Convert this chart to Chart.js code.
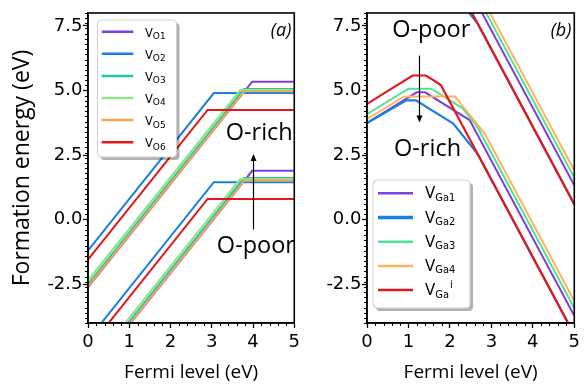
<!DOCTYPE html>
<html><head><meta charset="utf-8">
<script src="https://cdn.jsdelivr.net/npm/chart.js@4.4.0/dist/chart.umd.min.js"></script>
<style>
html,body{margin:0;padding:0;background:#fff;}
#wrap{position:relative;width:584px;height:385px;overflow:hidden;}
#ca{position:absolute;left:0;top:0;}
#cb{position:absolute;left:304px;top:0;}
</style></head><body>
<div id="wrap"><canvas id="ca" width="304" height="385"></canvas><canvas id="cb" width="280" height="385"></canvas></div>
<script>
// ---------- axis ticks ----------
const fermiTicks = [0, 1, 2, 3, 4, 5];
const energyTicks = [-2.5, 0, 2.5, 5, 7.5];
const minorStep = 0.2;

// ---------- panel (a): oxygen vacancies ----------
const namesA = ['O1', 'O2', 'O3', 'O4', 'O5', 'O6'];
const colorsA = ['#7b3fe2', '#1a7fe0', '#20c9a8', '#92e28c', '#ffa24c', '#e8141b'];
// O-rich  [Fermi level, formation energy]
const vO1Rich = [[0, -2.62], [3.98, 5.34], [5, 5.34]];
const vO2Rich = [[0, -1.20], [3.05, 4.90], [5, 4.90]];
const vO3Rich = [[0, -2.50], [3.78, 5.06], [5, 5.06]];
const vO4Rich = [[0, -2.36], [3.69, 5.02], [5, 5.02]];
const vO5Rich = [[0, -2.60], [3.79, 4.97], [5, 4.97]];
const vO6Rich = [[0, -1.55], [2.90, 4.25], [5, 4.25]];
// O-poor
const vO1Poor = [[0, -6.07], [3.98, 1.89], [5, 1.89]];
const vO2Poor = [[0, -4.65], [3.05, 1.45], [5, 1.45]];
const vO3Poor = [[0, -5.95], [3.78, 1.61], [5, 1.61]];
const vO4Poor = [[0, -5.81], [3.69, 1.57], [5, 1.57]];
const vO5Poor = [[0, -6.05], [3.79, 1.52], [5, 1.52]];
const vO6Poor = [[0, -5.00], [2.90, 0.80], [5, 0.80]];

// ---------- panel (b): gallium vacancies ----------
const namesB = ['Ga1', 'Ga2', 'Ga3', 'Ga4', 'Ga'];
const supB = ['', '', '', '', 'i'];
const colorsB = ['#7b3fe2', '#1a7fe0', '#52e294', '#ffb35e', '#e8141b'];
// O-rich
const vGa1Rich = [[0, 3.74], [1.20, 4.93], [1.40, 4.93], [2.475, 3.855], [5, -3.72]];
const vGa2Rich = [[0, 3.74], [0.95, 4.62], [1.18, 4.62], [2.08, 3.72], [2.67, 2.54], [5, -4.45]];
const vGa3Rich = [[0, 4.08], [1.00, 5.07], [1.55, 5.07], [2.30, 4.32], [2.66, 3.60], [5, -3.42]];
const vGa4Rich = [[0, 3.89], [0.90, 4.77], [2.12, 4.77], [2.84, 3.33], [5, -3.15]];
const vGaiRich = [[0, 4.48], [1.10, 5.58], [1.42, 5.58], [1.60, 5.40], [1.78, 5.21], [5, -4.45]];
// O-poor
const vGa1Poor = [[0, 8.79], [1.20, 9.98], [1.40, 9.98], [2.475, 8.905], [5, 1.33]];
const vGa2Poor = [[0, 8.79], [0.95, 9.67], [1.18, 9.67], [2.08, 8.77], [2.67, 7.59], [5, 0.60]];
const vGa3Poor = [[0, 9.13], [1.00, 10.12], [1.55, 10.12], [2.30, 9.37], [2.66, 8.65], [5, 1.63]];
const vGa4Poor = [[0, 8.94], [0.90, 9.82], [2.12, 9.82], [2.84, 8.38], [5, 1.90]];
const vGaiPoor = [[0, 9.53], [1.10, 10.63], [1.42, 10.63], [1.60, 10.45], [1.78, 10.26], [5, 0.60]];

const richA = [vO1Rich, vO2Rich, vO3Rich, vO4Rich, vO5Rich, vO6Rich];
const poorA = [vO1Poor, vO2Poor, vO3Poor, vO4Poor, vO5Poor, vO6Poor];
const richB = [vGa1Rich, vGa2Rich, vGa3Rich, vGa4Rich, vGaiRich];
const poorB = [vGa1Poor, vGa2Poor, vGa3Poor, vGa4Poor, vGaiPoor];

const LABEL_FONT = '"Open Sans", sans-serif';
const TICK_FONT = '"DejaVu Sans", sans-serif';

function pts(arr) { return arr.map(p => ({ x: p[0], y: p[1] })); }

function makeDatasets(rich, poor, colors, widths) {
  const ds = [];
  const n = rich.length;
  rich.forEach((r, i) => {
    [r, poor[i]].forEach(set => {
      ds.push({
        data: pts(set), borderColor: colors[i], backgroundColor: colors[i],
        borderWidth: widths[i], showLine: true, pointRadius: 0, fill: false,
        tension: 0, order: n - i
      });
    });
  });
  return ds;
}

function line(ctx, x1, y1, x2, y2) { ctx.beginPath(); ctx.moveTo(x1, y1); ctx.lineTo(x2, y2); ctx.stroke(); }

function roundRect(ctx, x, y, w, h, r) {
  ctx.beginPath();
  ctx.moveTo(x + r, y); ctx.lineTo(x + w - r, y); ctx.quadraticCurveTo(x + w, y, x + w, y + r);
  ctx.lineTo(x + w, y + h - r); ctx.quadraticCurveTo(x + w, y + h, x + w - r, y + h);
  ctx.lineTo(x + r, y + h); ctx.quadraticCurveTo(x, y + h, x, y + h - r);
  ctx.lineTo(x, y + r); ctx.quadraticCurveTo(x, y, x + r, y); ctx.closePath();
}

const decor = {
  id: 'decor',
  afterDraw(chart, args, o) {
    const ctx = chart.ctx, a = chart.chartArea, xs = chart.scales.x, ys = chart.scales.y;
    ctx.save();
    // minor ticks
    ctx.strokeStyle = '#000'; ctx.lineWidth = 1;
    for (let k = 0; k * minorStep <= xs.max + 1e-9; k++) {
      const v = k * minorStep;
      if (Math.abs(v - Math.round(v)) < 1e-6) continue;
      const px = Math.round(xs.getPixelForValue(v)) + 0.5;
      line(ctx, px, a.bottom, px, a.bottom + 3);
    }
    for (let k = Math.ceil(ys.min / minorStep); k * minorStep <= ys.max + 1e-9; k++) {
      const v = k * minorStep;
      if (Math.abs(v / 2.5 - Math.round(v / 2.5)) < 1e-6) continue;
      const py = Math.round(ys.getPixelForValue(v)) + 0.5;
      line(ctx, a.left - 3, py, a.left, py);
    }
    // frame
    ctx.lineWidth = 1.6;
    ctx.strokeRect(a.left, a.top, a.right - a.left, a.bottom - a.top);

    // annotations
    ctx.fillStyle = '#000';
    o.notes.forEach(nt => {
      ctx.font = nt.font;
      ctx.textAlign = 'center'; ctx.textBaseline = 'alphabetic';
      ctx.fillText(nt.text, xs.getPixelForValue(nt.x), ys.getPixelForValue(nt.y));
    });
    // arrow
    const ar = o.arrow;
    const ax = Math.round(xs.getPixelForValue(ar.x)) + 0.5;
    const ty = ys.getPixelForValue(ar.from), hy = ys.getPixelForValue(ar.to);
    const dir = hy < ty ? -1 : 1;
    ctx.lineWidth = 1.2; ctx.strokeStyle = '#000';
    line(ctx, ax, ty, ax, hy - dir * 6);
    ctx.beginPath(); ctx.moveTo(ax, hy); ctx.lineTo(ax - 3, hy - dir * 7); ctx.lineTo(ax + 3, hy - dir * 7); ctx.closePath(); ctx.fill();
    // panel label
    ctx.font = 'italic 18px "Open Sans", sans-serif';
    ctx.textAlign = 'right';
    ctx.fillText(o.panel, a.right - 3, a.top + 23);

    // legend
    const L = o.legend;
    ctx.fillStyle = 'rgba(0,0,0,0.3)';
    roundRect(ctx, L.x + 3, L.y + 3, L.w, L.h, 4); ctx.fill();
    ctx.fillStyle = '#fff';
    roundRect(ctx, L.x, L.y, L.w, L.h, 4); ctx.fill();
    ctx.strokeStyle = '#d0d0d0'; ctx.lineWidth = 1; ctx.stroke();
    L.names.forEach((nm, i) => {
      const y = L.y0 + i * L.dy;
      ctx.strokeStyle = L.colors[i]; ctx.lineWidth = L.lw[i];
      line(ctx, L.lx0, y, L.lx1, y);
      ctx.fillStyle = '#000'; ctx.textAlign = 'left'; ctx.textBaseline = 'alphabetic';
      ctx.font = L.fs + 'px "DejaVu Sans", sans-serif';
      const base = y + 5;
      ctx.fillText('V', L.tx, base);
      const w = ctx.measureText('V').width;
      const sf = L.fs * L.subRatio;
      ctx.font = sf + 'px "DejaVu Sans", sans-serif';
      ctx.fillText(nm, L.tx + w, base + 2.4);
      if (L.sup && L.sup[i]) {
        const sw = ctx.measureText(nm).width;
        ctx.fillText(L.sup[i], L.tx + w + sw + 1, base - L.fs * 0.45);
      }
    });
    ctx.restore();
  }
};

function makeOptions(yTitle, yWidth, padRight, extra) {
  return {
    responsive: false, animation: false, devicePixelRatio: 1,
    layout: { padding: { top: 13, right: padRight, left: 0, bottom: 0 } },
    plugins: { legend: { display: false }, tooltip: { enabled: false }, decor: extra },
    scales: {
      x: {
        type: 'linear', min: 0, max: 5,
        afterBuildTicks: s => { s.ticks = fermiTicks.map(v => ({ value: v })); },
        afterFit: s => { s.height = 62; },
        ticks: { color: '#000', font: { family: TICK_FONT, size: 18 }, padding: 4, maxRotation: 0,
          callback: v => String(v) },
        grid: { display: true, drawOnChartArea: false, drawTicks: true, tickLength: 5, tickColor: '#000', tickWidth: 1.3 },
        border: { display: true, color: '#000', width: 1.6 },
        title: { display: true, text: 'Fermi level (eV)', color: '#000', font: { family: LABEL_FONT, size: 19 }, padding: { top: 0, bottom: 1 } }
      },
      y: {
        type: 'linear', min: -4, max: 8,
        afterBuildTicks: s => { s.ticks = energyTicks.map(v => ({ value: v })); },
        afterFit: s => { s.width = yWidth; },
        ticks: { color: '#000', font: { family: TICK_FONT, size: 18 }, padding: 0.5,
          callback: v => v.toFixed(1) },
        grid: { display: true, drawOnChartArea: false, drawTicks: true, tickLength: 5, tickColor: '#000', tickWidth: 1.3 },
        border: { display: true, color: '#000', width: 1.6 },
        title: { display: !!yTitle, text: yTitle, color: '#000', font: { family: LABEL_FONT, size: 23 }, padding: { top: 9, bottom: 0 } }
      }
    }
  };
}

new Chart(document.getElementById('ca'), {
  type: 'scatter',
  data: { datasets: makeDatasets(richA, poorA, colorsA, [2, 2, 2, 2.2, 2, 2]) },
  options: makeOptions('Formation energy (eV)', 88, 4, {
    panel: '(a)',
    notes: [
      { text: 'O-rich', x: 4.15, y: 3.07, font: '23.5px "Open Sans", sans-serif' },
      { text: 'O-poor', x: 4.07, y: -1.30, font: '23.5px "Open Sans", sans-serif' }
    ],
    arrow: { x: 4.0, from: -0.38, to: 2.54 },
    legend: { x: 97.5, y: 20, w: 79, h: 137, y0: 31.7, dy: 22.1, lx0: 101.7, lx1: 133.3, tx: 145, fs: 11.5, subRatio: 0.78,
      names: namesA, colors: colorsA, lw: [2.5, 2.5, 2.5, 2.5, 2.5, 2.5] }
  }),
  plugins: [decor]
});

new Chart(document.getElementById('cb'), {
  type: 'scatter',
  data: { datasets: makeDatasets(richB, poorB, colorsB, [2, 2.2, 2, 2, 2.2]) },
  options: makeOptions('', 63, 4, {
    panel: '(b)',
    notes: [
      { text: 'O-poor', x: 1.55, y: 7.09, font: '23.5px "Open Sans", sans-serif' },
      { text: 'O-rich', x: 1.46, y: 2.46, font: '23.5px "Open Sans", sans-serif' }
    ],
    arrow: { x: 1.25, from: 6.35, to: 3.76 },
    legend: { x: 69, y: 180, w: 97, h: 128, y0: 193.3, dy: 24.2, lx0: 74, lx1: 109, tx: 121, fs: 15, subRatio: 0.66,
      names: namesB, sup: supB, colors: colorsB, lw: [2.5, 3.5, 2.5, 2.5, 2.5] }
  }),
  plugins: [decor]
});
</script>
</body></html>
